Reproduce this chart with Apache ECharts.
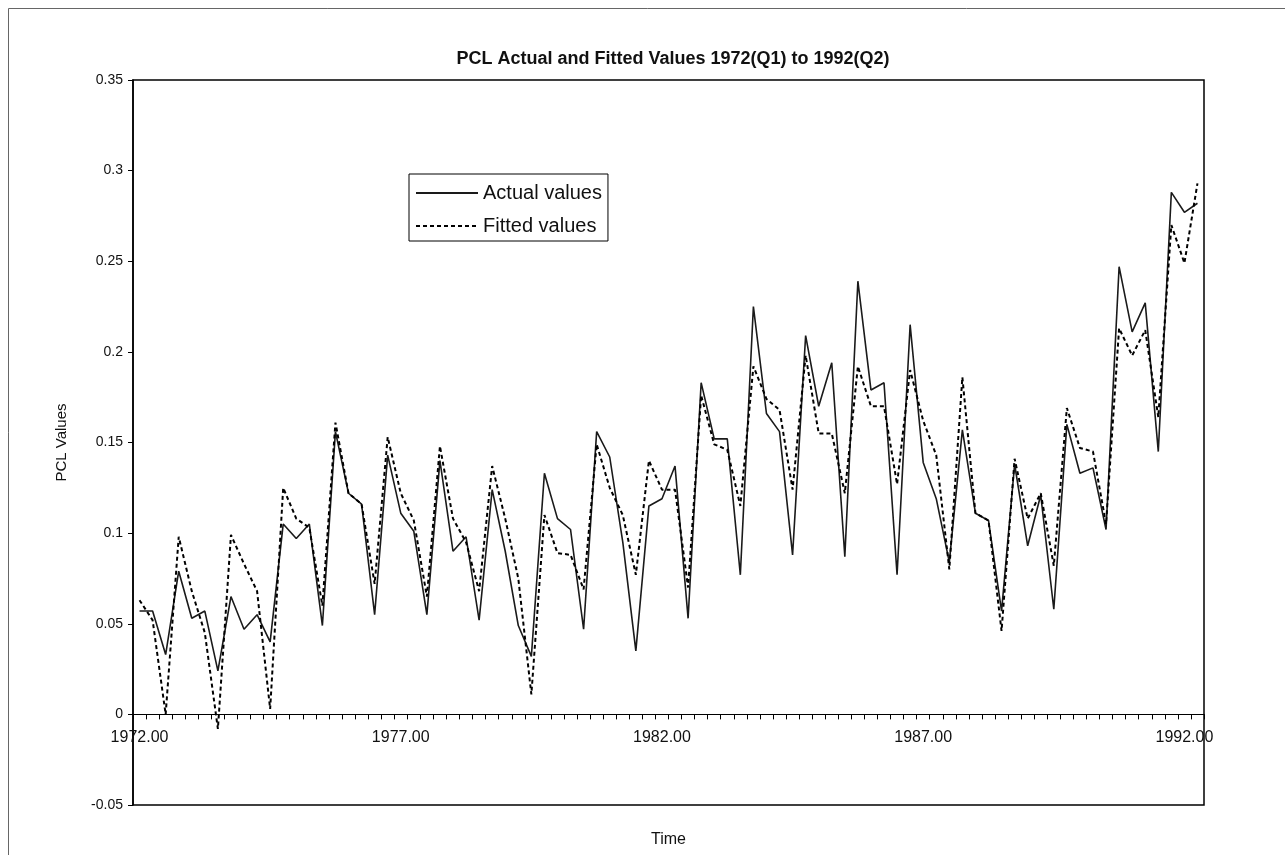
<!DOCTYPE html>
<html>
<head>
<meta charset="utf-8">
<script src="https://cdn.jsdelivr.net/npm/echarts@6/dist/echarts.min.js"></script>
<style>
html,body{margin:0;padding:0;background:#fff;}
#chart{width:1285px;height:855px;}
</style>
</head>
<body>
<div id="chart"></div>
<script>
// Quarterly observations 1972(Q1) .. 1992(Q2)
var startYear = 1972;
var actualValues = [
  0.057, 0.057, 0.033, 0.079, 0.053, 0.057, 0.024, 0.065, 0.047, 0.055,
  0.040, 0.105, 0.097, 0.105, 0.049, 0.156, 0.122, 0.116, 0.055, 0.143,
  0.111, 0.101, 0.055, 0.140, 0.090, 0.098, 0.052, 0.124, 0.090, 0.049,
  0.032, 0.133, 0.108, 0.102, 0.047, 0.156, 0.142, 0.095, 0.035, 0.115,
  0.119, 0.137, 0.053, 0.183, 0.152, 0.152, 0.077, 0.225, 0.166, 0.156,
  0.088, 0.209, 0.170, 0.194, 0.087, 0.239, 0.179, 0.183, 0.077, 0.215,
  0.139, 0.119, 0.084, 0.157, 0.111, 0.107, 0.057, 0.138, 0.093, 0.121,
  0.058, 0.160, 0.133, 0.136, 0.102, 0.247, 0.211, 0.227, 0.145, 0.288,
  0.277, 0.282
];
var fittedValues = [
  0.063, 0.052, 0.000, 0.098, 0.068, 0.045, -0.008, 0.099, 0.083, 0.068,
  0.003, 0.125, 0.108, 0.103, 0.060, 0.161, 0.122, 0.116, 0.072, 0.153,
  0.122, 0.107, 0.065, 0.148, 0.108, 0.095, 0.068, 0.137, 0.108, 0.075,
  0.011, 0.110, 0.089, 0.088, 0.069, 0.149, 0.125, 0.110, 0.077, 0.140,
  0.124, 0.124, 0.070, 0.176, 0.149, 0.146, 0.115, 0.192, 0.174, 0.168,
  0.124, 0.198, 0.155, 0.155, 0.122, 0.192, 0.170, 0.170, 0.127, 0.190,
  0.162, 0.143, 0.080, 0.186, 0.111, 0.107, 0.046, 0.141, 0.108, 0.122,
  0.082, 0.169, 0.147, 0.145, 0.105, 0.213, 0.198, 0.212, 0.164, 0.270,
  0.249, 0.293
];
var categories = [];
for (var i = 0; i < actualValues.length; i++) {
  categories.push((startYear + i * 0.25).toFixed(2));
}
var yMin = -0.05, yMax = 0.35, yStep = 0.05;

// layout of the plot box
var plotTop = 80, plotBottomY = 805, plotLeft = 133, plotRight = 1204, H = 855, W = 1285;
var zeroY = plotTop + (yMax - 0) / (yMax - yMin) * (plotBottomY - plotTop);

var chart = echarts.init(document.getElementById('chart'), null, {renderer: 'canvas'});
var font = 'Arial, "Liberation Sans", sans-serif';
chart.setOption({
  animation: false,
  backgroundColor: '#fff',
  title: {
    text: 'PCL Actual and Fitted Values 1972(Q1) to 1992(Q2)',
    left: 668, top: 45, textAlign: 'center',
    textStyle: {fontFamily: font, fontSize: 18, fontWeight: 'bold', color: '#111'}
  },
  graphic: [{
    type: 'rect', silent: true,
    shape: {x: 8.5, y: 8.5, width: 1400, height: 1000},
    style: {fill: 'none', stroke: '#666', lineWidth: 1}
  }],
  legend: {
    orient: 'vertical', left: 409, top: 174,
    padding: [9, 6, 5, 6], itemGap: 13,
    itemWidth: 62, itemHeight: 14,
    borderColor: '#000', borderWidth: 1, backgroundColor: '#fff',
    textStyle: {fontFamily: font, fontSize: 20, color: '#111'},
    itemStyle: {color: 'rgba(0,0,0,0)', borderWidth: 0, opacity: 0},
    data: ['Actual values', 'Fitted values']
  },
  grid: [{
    left: plotLeft, right: W - plotRight, top: plotTop, bottom: H - plotBottomY,
    containLabel: false, outerBoundsMode: 'none',
    show: true, borderColor: '#000', borderWidth: 1.5, backgroundColor: '#fff'
  }, {
    left: plotLeft, right: W - plotRight, top: plotTop, bottom: H - zeroY,
    containLabel: false, outerBoundsMode: 'none', show: false
  }],
  xAxis: [{
    gridIndex: 0, type: 'category', data: categories, boundaryGap: true,
    name: 'Time', nameLocation: 'middle', nameGap: 27,
    nameTextStyle: {fontFamily: font, fontSize: 16, color: '#111'},
    axisLine: {show: false, onZero: false},
    axisTick: {show: false},
    axisLabel: {show: false},
    splitLine: {show: false}
  }, {
    gridIndex: 1, type: 'category', data: categories, boundaryGap: true,
    axisLine: {show: true, onZero: false, lineStyle: {color: '#000', width: 1.2}},
    axisTick: {show: true, interval: 0, length: 5, lineStyle: {color: '#000'}},
    axisLabel: {interval: 19, margin: 15, fontFamily: font, fontSize: 16, color: '#111'},
    splitLine: {show: false}
  }],
  yAxis: [{
    gridIndex: 0, type: 'value', min: yMin, max: yMax, interval: yStep,
    name: 'PCL Values', nameLocation: 'middle', nameGap: 64, nameRotate: 90,
    nameTextStyle: {fontFamily: font, fontSize: 15, color: '#111'},
    axisLine: {show: true, onZero: false, lineStyle: {color: '#000', width: 1.5}},
    axisTick: {show: true, length: 5, lineStyle: {color: '#000'}},
    axisLabel: {margin: 10, fontFamily: font, fontSize: 14, color: '#111'},
    splitLine: {show: false}
  }, {
    gridIndex: 1, type: 'value', min: 0, max: 1, show: false
  }],
  series: [{
    name: 'Actual values', type: 'line', data: actualValues,
    xAxisIndex: 0, yAxisIndex: 0,
    symbol: 'none', lineStyle: {color: '#1a1a1a', width: 1.6, type: 'solid'},
    itemStyle: {color: '#1a1a1a'}
  }, {
    name: 'Fitted values', type: 'line', data: fittedValues,
    xAxisIndex: 0, yAxisIndex: 0,
    symbol: 'none', lineStyle: {color: '#000', width: 2, type: [4, 3]},
    itemStyle: {color: '#000'}
  }]
});
</script>
</body>
</html>
